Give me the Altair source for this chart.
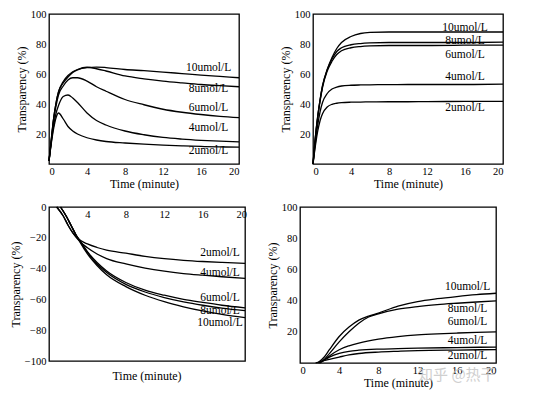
import altair as alt
import pandas as pd

SERIES = ["2umol/L", "4umol/L", "6umol/L", "8umol/L", "10umol/L"]

# ---- top-left panel (common time grid)
tl_t = [0, 0.25, 0.5, 0.75, 1, 1.5, 2, 2.5, 3, 4, 5, 6, 8, 10, 12, 14, 16, 18, 20]
tl_2 = [2, 14, 24, 31, 34, 30, 25, 22, 20, 17.5, 16, 15, 14, 13.2, 12.6, 12.1, 11.7, 11.4, 11.2]
tl_4 = [2, 15, 26, 34, 39, 45, 46, 44, 41, 34, 29, 26, 22, 19.5, 17.7, 16.6, 15.8, 15.2, 14.8]
tl_6 = [2, 16, 30, 39, 46, 52, 56, 57.5, 57.5, 55.3, 51.5, 48.5, 43, 39.5, 36.5, 34.5, 33, 31.8, 30.9]
tl_8 = [2, 17, 31, 41, 48, 55, 59, 61.5, 63, 64.5, 63.5, 62, 58.7, 56.8, 55.3, 54.1, 53, 52.2, 51.5]
tl_10 = [2, 17, 31, 41, 48, 54, 58, 61, 62.8, 64.3, 64.6, 64.3, 63, 62.2, 61.3, 60.3, 59.3, 58.4, 57.5]
tl_label_x = [16.8, 16.8, 16.8, 16.8, 16.8]
tl_label_y = [8.7, 24, 37.3, 50, 64]

# ---- top-right panel
tr_t = [0, 0.25, 0.5, 0.75, 1, 1.5, 2, 2.5, 3, 4, 5, 6, 8, 10, 12, 16, 20]
tr_2 = [0, 12, 22, 29, 33.5, 38, 39.8, 40.5, 40.9, 41.2, 41.3, 41.4, 41.5, 41.5, 41.6, 41.7, 41.8]
tr_4 = [0, 14, 26, 35, 41, 47, 50, 51.3, 52, 52.5, 52.7, 52.8, 52.9, 53, 53, 53, 53.2]
tr_6 = [0, 17, 31, 42, 51, 62, 68.5, 73, 75.5, 77.5, 78.3, 78.7, 79, 79, 79, 79.2, 79.3]
tr_8 = [0, 18, 32, 43, 52, 63, 70, 75, 77.5, 79.5, 80.3, 80.7, 81, 81, 81, 81, 81.2]
tr_10 = [0, 18, 32, 43, 52, 63, 71, 77, 81, 85, 87, 87.7, 88, 88, 88, 88, 88]
tr_label_x = [16, 16, 16, 16, 16]
tr_label_y = [37.5, 58, 72.5, 82, 90.5]

# ---- bottom-left panel (each series own times)
bl_2_t = [0.8, 1.5, 2, 2.5, 3, 4, 5, 6, 8, 10, 12, 14, 16, 18, 20.4]
bl_2 = [0, -6, -12, -17, -20.5, -24, -26.3, -28, -30, -32, -33.5, -34.6, -35.4, -36, -36.6]
bl_4_t = [0.8, 1.5, 2, 2.5, 3, 4, 5, 6, 8, 10, 12, 14, 16, 18, 20.4]
bl_4 = [0, -6, -12, -17, -21, -26.5, -30.5, -33.5, -37, -39.7, -41.7, -43.2, -44.3, -45.3, -46.3]
bl_6_t = [1.2, 1.8, 2.3, 2.8, 3.2, 4, 5, 6, 8, 10, 12, 14, 16, 18, 20.4]
bl_6 = [0, -6, -12, -18, -21.5, -29, -36, -41.5, -49, -54, -57.3, -60, -62, -63.8, -65.5]
bl_8_t = [1.2, 1.8, 2.3, 2.8, 3.2, 4, 5, 6, 8, 10, 12, 14, 16, 18, 20.4]
bl_8 = [0, -6, -12, -18, -22, -29.5, -37, -42.5, -50.2, -55.2, -58.8, -61.6, -63.8, -65.6, -67.3]
bl_10_t = [1.2, 1.8, 2.3, 2.8, 3.2, 4, 5, 6, 8, 10, 12, 14, 16, 18, 20.4]
bl_10 = [0, -6, -12, -18, -22.5, -30.5, -38, -44, -51.7, -57.3, -61.5, -64.8, -67.5, -69.7, -71.8]
bl_label_x = [17.8, 17.8, 17.8, 17.8, 17.8]
bl_label_y = [-30, -42.6, -59.3, -67.5, -75]

# ---- bottom-right panel
br_2_t = [1.6, 2, 3, 4, 5, 6, 8, 10, 12, 16, 20]
br_2 = [0, 0.8, 2.3, 3.8, 5.2, 6.1, 7.0, 7.5, 7.9, 8.3, 8.6]
br_4_t = [1.9, 2.5, 3, 4, 5, 6, 8, 10, 12, 16, 20]
br_4 = [0, 2, 3.8, 6.2, 7.5, 8.2, 8.9, 9.2, 9.5, 9.9, 10.2]
br_6_t = [2.0, 2.5, 3, 4, 5, 6, 8, 10, 12, 14, 16, 18, 20]
br_6 = [0, 2, 4.5, 8.5, 11, 12.8, 15.3, 16.9, 18, 18.7, 19.2, 19.6, 19.9]
br_8_t = [2.0, 2.5, 3, 4, 5, 6, 7, 8, 10, 12, 14, 16, 18, 20]
br_8 = [0, 2.5, 6, 13.5, 20, 25.5, 29.5, 31.5, 34.5, 36.2, 37.4, 38.3, 39.1, 39.8]
br_10_t = [1.8, 2.5, 3, 4, 5, 6, 7, 8, 10, 12, 14, 16, 18, 20]
br_10 = [0, 4, 8.5, 17, 23, 27.5, 30, 32, 36.5, 39.4, 41.2, 42.6, 43.8, 44.7]
br_label_x = [17.1, 17.1, 17.1, 17.1, 17.1]
br_label_y = [4.7, 13.8, 26, 34.7, 49]

X_TITLE = "Time  (minute)"
Y_TITLE = "Transparency (%)"
FONT = "Liberation Serif"


def frame(ts, vs):
    rows = []
    for name, t, v in zip(SERIES, ts, vs):
        for a, b in zip(t, v):
            rows.append({"t": a, "v": b, "s": name})
    return pd.DataFrame(rows)


def labels(xs, ys):
    return pd.DataFrame({"t": xs, "v": ys, "s": SERIES})


def panel(df, lab, xdom, ydom, w, h, xaxis, yaxis, wm=None, title=None):
    def X():
        return alt.X("t:Q", scale=alt.Scale(domain=xdom, nice=False, zero=False), axis=xaxis)

    def Y():
        return alt.Y("v:Q", scale=alt.Scale(domain=ydom, nice=False, zero=False), axis=yaxis)

    lines = alt.Chart(df).mark_line(color="black", strokeWidth=1.3, interpolate="monotone").encode(
        x=X(), y=Y(), detail="s:N"
    )
    txt = alt.Chart(lab).mark_text(font=FONT, fontSize=11.5, color="black", align="center", baseline="middle").encode(
        x=X(), y=Y(), text="s:N"
    )
    layers = [lines, txt]
    if wm is not None:
        layers.append(
            alt.Chart(wm).mark_text(font="Noto Sans CJK SC", fontSize=15, color="#c4c4c4", opacity=0.8).encode(
                x=X(), y=Y(), text="w:N"
            )
        )
    ch = alt.layer(*layers).properties(width=w, height=h)
    if title is not None:
        ch = ch.properties(title=title)
    return ch


def yax(vals, expr=None):
    kw = dict(values=vals, title=Y_TITLE, grid=False, ticks=False, domain=False, labelPadding=3,
              titlePadding=2, labelOverlap=False, labelFont=FONT, labelFontSize=10.5, labelColor="black",
              titleFont=FONT, titleFontSize=12, titleFontWeight="normal", titleColor="black")
    if expr:
        kw["labelExpr"] = expr
    return alt.Axis(**kw)


def xax(vals, title=X_TITLE, **extra):
    return alt.Axis(values=vals, title=title, grid=False, ticks=False, domain=False, labelPadding=2,
                    titlePadding=2, labelOverlap=False, labelFont=FONT, labelFontSize=10.5, labelColor="black",
                    titleFont=FONT, titleFontSize=12, titleFontWeight="normal", titleColor="black", **extra)


tl = panel(
    frame([tl_t] * 5, [tl_2, tl_4, tl_6, tl_8, tl_10]), labels(tl_label_x, tl_label_y),
    [0, 20], [0, 100], 190, 150,
    xax([0, 4, 8, 12, 16, 20]), yax([20, 40, 60, 80, 100]),
)
tr = panel(
    frame([tr_t] * 5, [tr_2, tr_4, tr_6, tr_8, tr_10]), labels(tr_label_x, tr_label_y),
    [0, 20], [0, 100], 190, 150,
    xax([0, 4, 8, 12, 16, 20]), yax([20, 40, 60, 80, 100]),
)
bl = panel(
    frame([bl_2_t, bl_4_t, bl_6_t, bl_8_t, bl_10_t], [bl_2, bl_4, bl_6, bl_8, bl_10]),
    labels(bl_label_x, bl_label_y),
    [0, 20.4], [-100, 0], 196, 154,
    xax([4, 8, 12, 16, 20], title=None, offset=-154),
    yax([0, -20, -40, -60, -80, -100], expr="datum.value == 0 ? '0' : '\u2212' + abs(datum.value)"),
    title=alt.TitleParams(X_TITLE, orient="bottom", font=FONT, fontSize=12, fontWeight="normal",
                          color="black", offset=4),
)
br = panel(
    frame([br_2_t, br_4_t, br_6_t, br_8_t, br_10_t], [br_2, br_4, br_6, br_8, br_10]),
    labels(br_label_x, br_label_y),
    [0, 20], [0, 100], 196, 156,
    xax([0, 4, 8, 12, 16, 20]), yax([20, 40, 60, 80, 100]),
    wm=pd.DataFrame({"t": [16], "v": [-7.5], "w": ["知乎 @热干"]}),
)

chart = alt.vconcat(
    alt.hconcat(tl, tr, spacing=35),
    alt.hconcat(bl, br, spacing=16),
    spacing=10,
).configure_view(stroke="black", strokeWidth=1.3).properties(
    padding={"left": 0, "top": 0, "right": 5, "bottom": 0}, background="white"
)

chart.save("out.html", embed_options={"renderer": "svg", "actions": False})
